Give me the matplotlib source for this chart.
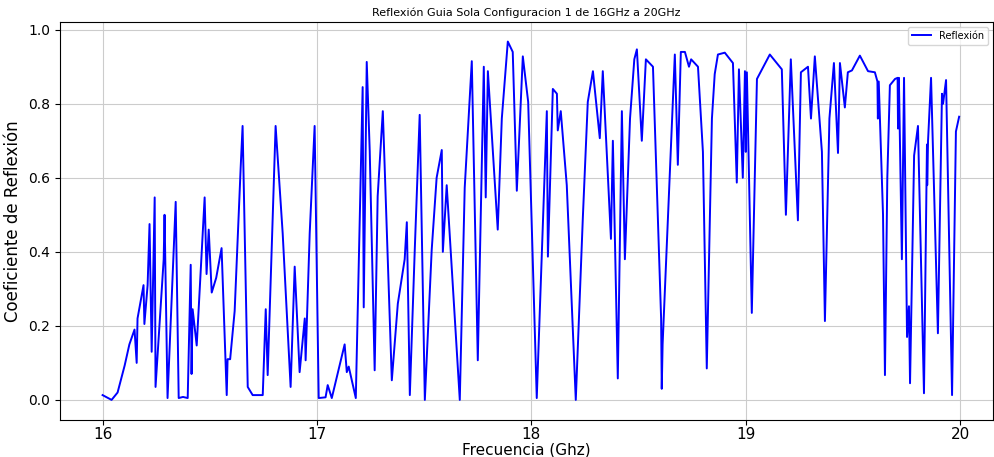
import matplotlib
matplotlib.use('Agg')
import matplotlib.pyplot as plt

# frecuencia (GHz) y coeficiente de reflexion
freq = [
    16.000, 16.042, 16.070, 16.103, 16.125, 16.149, 16.159, 16.163, 16.191, 16.195, 16.210, 16.219,
    16.229, 16.243, 16.247, 16.285, 16.289, 16.303, 16.341, 16.355, 16.375, 16.397,
    16.411, 16.415, 16.420, 16.439, 16.476, 16.485, 16.495, 16.509, 16.530, 16.555,
    16.579, 16.583, 16.595, 16.616, 16.644, 16.653, 16.677, 16.700, 16.747, 16.761,
    16.770, 16.807, 16.840, 16.877, 16.896, 16.919, 16.943, 16.947, 16.966, 16.989,
    17.008, 17.040, 17.050, 17.069, 17.129, 17.139, 17.148, 17.181, 17.213, 17.218,
    17.232, 17.246, 17.269, 17.283, 17.307, 17.349, 17.377, 17.409, 17.419, 17.433,
    17.456, 17.479, 17.503, 17.535, 17.558, 17.582, 17.587, 17.605, 17.633, 17.666,
    17.689, 17.722, 17.750, 17.778, 17.787, 17.797, 17.843, 17.862, 17.890, 17.913,
    17.932, 17.960, 17.985, 18.025, 18.049, 18.072, 18.077, 18.100, 18.119, 18.123,
    18.137, 18.165, 18.207, 18.240, 18.263, 18.287, 18.319, 18.333, 18.371, 18.380,
    18.403, 18.422, 18.436, 18.460, 18.480, 18.492, 18.515, 18.534, 18.567, 18.605,
    18.608, 18.612, 18.669, 18.683, 18.697, 18.716, 18.735, 18.745, 18.777, 18.800,
    18.818, 18.842, 18.855, 18.870, 18.902, 18.940, 18.958, 18.968, 18.986, 18.996,
    19.000, 19.005, 19.028, 19.052, 19.112, 19.168, 19.187, 19.210, 19.243, 19.257,
    19.290, 19.304, 19.322, 19.355, 19.369, 19.390, 19.411, 19.430, 19.439, 19.462,
    19.476, 19.495, 19.532, 19.570, 19.602, 19.614, 19.616, 19.620, 19.640, 19.649,
    19.660, 19.672, 19.696, 19.708, 19.710, 19.714, 19.728, 19.738, 19.752, 19.761,
    19.766, 19.785, 19.803, 19.831, 19.845, 19.846, 19.850, 19.864, 19.896, 19.915,
    19.920, 19.934, 19.962, 19.980, 19.995,
]
reflexion = [
    0.013, 0.000, 0.020, 0.093, 0.150, 0.190, 0.100, 0.220, 0.310, 0.205, 0.310, 0.475,
    0.130, 0.547, 0.035, 0.380, 0.500, 0.005, 0.535, 0.005, 0.008, 0.005,
    0.365, 0.070, 0.245, 0.147, 0.547, 0.340, 0.460, 0.290, 0.330, 0.410,
    0.013, 0.110, 0.110, 0.240, 0.627, 0.740, 0.035, 0.013, 0.013, 0.245,
    0.067, 0.740, 0.450, 0.035, 0.360, 0.075, 0.220, 0.107, 0.450, 0.740,
    0.005, 0.007, 0.040, 0.005, 0.150, 0.075, 0.090, 0.005, 0.845, 0.250,
    0.913, 0.672, 0.080, 0.550, 0.780, 0.053, 0.260, 0.380, 0.480, 0.013,
    0.405, 0.770, 0.000, 0.405, 0.600, 0.675, 0.400, 0.580, 0.315, 0.000,
    0.573, 0.915, 0.107, 0.900, 0.547, 0.888, 0.460, 0.760, 0.968, 0.940,
    0.565, 0.928, 0.805, 0.005, 0.405, 0.780, 0.387, 0.840, 0.827, 0.728,
    0.780, 0.580, 0.000, 0.493, 0.805, 0.888, 0.707, 0.888, 0.435, 0.700,
    0.058, 0.780, 0.380, 0.760, 0.920, 0.947, 0.700, 0.920, 0.900, 0.220,
    0.030, 0.150, 0.933, 0.635, 0.940, 0.940, 0.900, 0.920, 0.900, 0.670,
    0.085, 0.760, 0.880, 0.933, 0.938, 0.910, 0.587, 0.893, 0.600, 0.888,
    0.670, 0.885, 0.235, 0.867, 0.933, 0.893, 0.500, 0.920, 0.485, 0.885,
    0.900, 0.760, 0.928, 0.670, 0.213, 0.760, 0.910, 0.667, 0.910, 0.790,
    0.885, 0.890, 0.930, 0.888, 0.885, 0.860, 0.760, 0.860, 0.500, 0.067,
    0.600, 0.850, 0.867, 0.870, 0.733, 0.870, 0.380, 0.870, 0.170, 0.253,
    0.045, 0.660, 0.740, 0.018, 0.690, 0.580, 0.700, 0.870, 0.180, 0.827,
    0.800, 0.864, 0.013, 0.725, 0.765,
]

fig = plt.figure(figsize=(9.95, 4.57), dpi=100)
ax = fig.add_axes([0.060, 0.082, 0.938, 0.870])

ax.plot(freq, reflexion, color='blue', linewidth=1.4, label='Reflexión')

ax.set_xlim(15.80, 20.153)
ax.set_ylim(-0.053, 1.021)
ax.set_xticks([16, 17, 18, 19, 20])
ax.set_yticks([0.0, 0.2, 0.4, 0.6, 0.8, 1.0])
ax.tick_params(axis='x', labelsize=11, pad=2)
ax.tick_params(axis='y', labelsize=10)

ax.set_title('Reflexión Guia Sola Configuracion 1 de 16GHz a 20GHz', fontsize=8, pad=4)
ax.set_xlabel('Frecuencia (Ghz)', fontsize=11, labelpad=0)
ax.set_ylabel('Coeficiente de Reflexión', fontsize=12)

ax.grid(True, color='#cccccc', linewidth=0.8)
ax.legend(loc='upper right', fontsize=7, frameon=True)

fig.savefig('out.png', dpi=100)
